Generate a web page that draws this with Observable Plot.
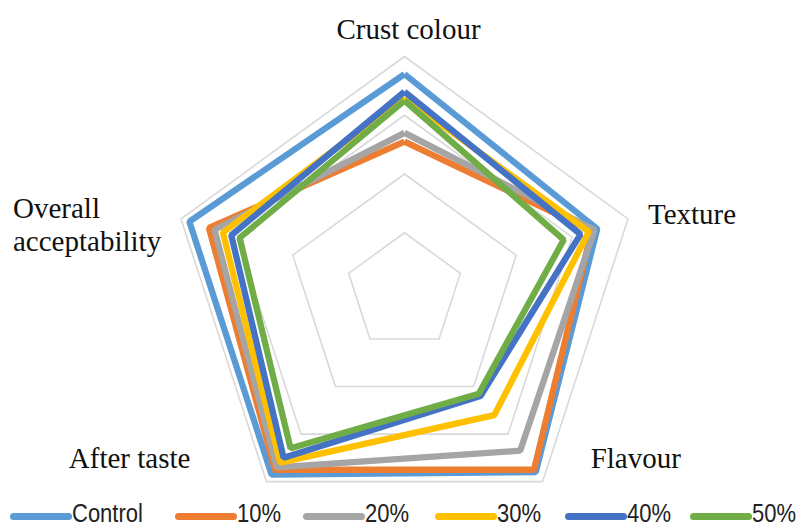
<!DOCTYPE html>
<html>
<head>
<meta charset="utf-8">
<script src="https://cdn.jsdelivr.net/npm/d3@7"></script>
<script src="https://cdn.jsdelivr.net/npm/@observablehq/plot@0.6"></script>
<style>
  html, body { margin: 0; padding: 0; background: #fff; overflow: hidden; }
  #chart { width: 801px; height: 498px; }
  #legend { position: relative; height: 30px; width: 801px;
    font-family: "Liberation Sans", Arial, sans-serif; font-size: 25px; color: #222; }
  .item { position: absolute; top: 0; height: 30px; display: flex; align-items: center; }
  .sw { display: inline-block; width: 62px; height: 7px; border-radius: 4px; margin-top: 6px; }
  .tx { display: inline-block; transform: scaleX(0.88); transform-origin: left center; white-space: nowrap; line-height: 30px; }
</style>
</head>
<body>
<div id="chart"></div>
<div id="legend"></div>
<script>
// ---- data ----
const axes = ["Crust colour", "Texture", "Flavour", "After taste", "Overall acceptability"];
const seriesNames = ["Control", "10%", "20%", "30%", "40%", "50%"];
const control = [7.4, 6.9, 7.6, 7.7, 7.7];
const pct10   = [5.1, 6.7, 7.5, 7.5, 7.0];
const pct20   = [5.4, 6.8, 6.7, 7.4, 6.8];
const pct30   = [6.6, 6.6, 5.2, 7.2, 6.5];
const pct40   = [6.8, 6.3, 4.4, 7.0, 6.2];
const pct50   = [6.5, 5.7, 4.3, 6.6, 5.9];
const ringLevels = [2, 4, 6, 8];
const colors = ["#5B9BD5", "#ED7D31", "#A5A5A5", "#FFC000", "#4472C4", "#70AD47"];

const seriesValues = [control, pct10, pct20, pct30, pct40, pct50];
const n = axes.length;
const ang = i => (i % n) * 2 * Math.PI / n;

const seriesPts = [];
seriesNames.forEach((s, k) => {
  for (let i = 0; i <= n; i++) {
    const v = seriesValues[k][i % n];
    seriesPts.push({series: s, x: v * Math.sin(ang(i)), y: v * Math.cos(ang(i))});
  }
});
const ringPts = [];
ringLevels.forEach(r => {
  for (let i = 0; i <= n; i++) ringPts.push({ring: r, x: r * Math.sin(ang(i)), y: r * Math.cos(ang(i))});
});

// label layout (pixel offsets from the outer ring vertex)
const outer = ringLevels[ringLevels.length - 1];
const labelLayout = [
  {anchor: "middle", dx: 4, dy: -28},
  {anchor: "start", dx: 20, dy: -5},
  {anchor: "start", dx: 48, dy: -24},
  {anchor: "end", dx: -76, dy: -24},
  {anchor: "start", dx: -168, dy: 5}
];
const labelMarks = axes.map((a, i) => Plot.text([{
    x: outer * Math.sin(ang(i)), y: outer * Math.cos(ang(i)),
    t: a === "Overall acceptability" ? "Overall\nacceptability" : a}], {
  x: "x", y: "y", text: "t",
  textAnchor: labelLayout[i].anchor, dx: labelLayout[i].dx, dy: labelLayout[i].dy,
  lineAnchor: "middle", lineHeight: 1.14,
  fontSize: 29, fill: "#111",
  fontFamily: "'Liberation Serif', 'Times New Roman', serif"
}));

const chart = Plot.plot({
  width: 801, height: 498, margin: 0,
  x: {domain: [-8, 8], range: [169, 639], axis: null},
  y: {domain: [-8, 8], range: [526, 56], axis: null},
  color: {domain: seriesNames, range: colors},
  marks: [
    Plot.line(ringPts, {x: "x", y: "y", z: "ring", stroke: "#D9D9D9", strokeWidth: 1.6}),
    Plot.line(seriesPts, {x: "x", y: "y", z: "series", stroke: "series", strokeWidth: 6.3,
      strokeLinejoin: "miter", strokeLinecap: "butt"}),
    ...labelMarks
  ]
});
document.getElementById("chart").appendChild(chart);

// legend layout: left edge of each item
const legendX = [10, 175, 303, 435, 565, 690];
const legend = document.getElementById("legend");
seriesNames.forEach((s, k) => {
  const it = document.createElement("div");
  it.className = "item";
  it.style.left = legendX[k] + "px";
  const sw = document.createElement("span");
  sw.className = "sw";
  sw.style.background = colors[k];
  const tx = document.createElement("span");
  tx.className = "tx";
  tx.textContent = s;
  it.appendChild(sw); it.appendChild(tx);
  legend.appendChild(it);
});
</script>
</body>
</html>
